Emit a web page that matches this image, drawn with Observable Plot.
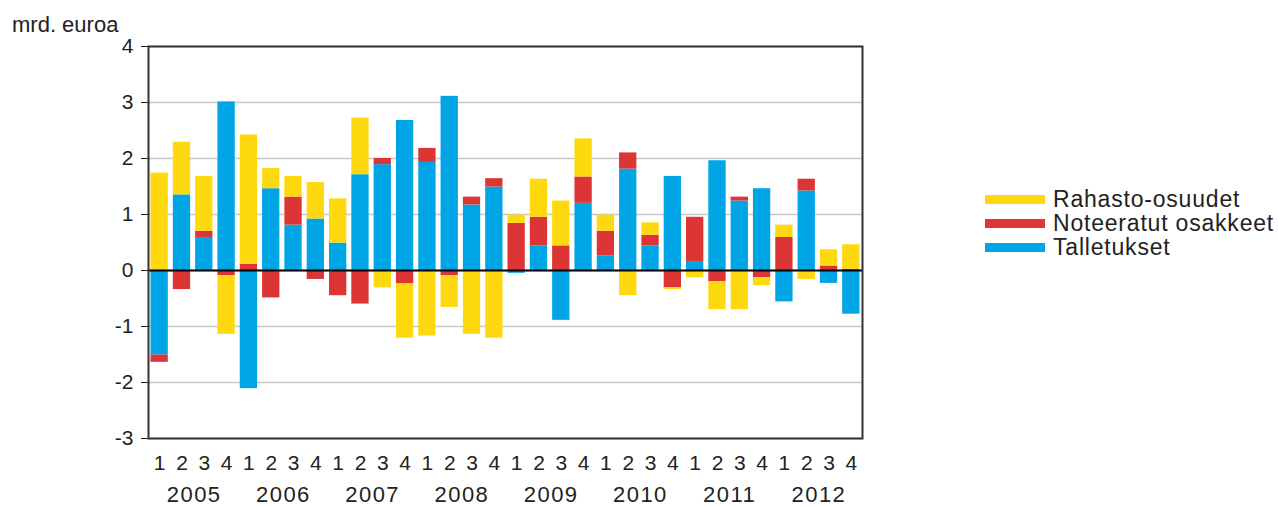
<!DOCTYPE html>
<html>
<head>
<meta charset="utf-8">
<script src="https://cdn.jsdelivr.net/npm/d3@7"></script>
<script src="https://cdn.jsdelivr.net/npm/@observablehq/plot@0.6"></script>
<style>
  html, body { margin: 0; padding: 0; background: #fff; }
  #wrap { position: relative; width: 1278px; height: 507px; font-family: "Liberation Sans", Arial, sans-serif; color: #222; }
  #title { position: absolute; left: 12px; top: 16px; font-size: 22px; line-height: 18px; }
  #legend { position: absolute; left: 985px; top: 187px; font-size: 23px; letter-spacing: 0.8px; }
  .row { display: flex; align-items: center; height: 24px; }
  .sw { width: 60px; height: 9px; margin-right: 8px; }
</style>
</head>
<body>
<div id="wrap">
  <div id="chart"></div>
  <div id="title">mrd. euroa</div>
  <div id="legend"></div>
</div>
<script>
const years = [2005, 2006, 2007, 2008, 2009, 2010, 2011, 2012];
const quarters = ["1", "2", "3", "4"];
const seriesNames = ["Talletukset", "Noteeratut osakkeet", "Rahasto-osuudet"];
const legendOrder = ["Rahasto-osuudet", "Noteeratut osakkeet", "Talletukset"];
const colors = ["#00a5e6", "#dc3535", "#ffd90f"];
const yTicks = [-3, -2, -1, 0, 1, 2, 3, 4];

const talletukset = [-1.51, 1.35, 0.59, 3.01, -2.11, 1.46, 0.81, 0.92, 0.49, 1.71, 1.89, 2.68, 1.93, 3.11, 1.17, 1.49, -0.05, 0.44, -0.89, 1.20, 0.26, 1.81, 0.44, 1.68, 0.16, 1.96, 1.24, 1.46, -0.56, 1.42, -0.23, -0.78];
const noteeratut = [-0.13, -0.34, 0.11, -0.09, 0.11, -0.49, 0.50, -0.16, -0.45, -0.60, 0.11, -0.24, 0.25, -0.09, 0.14, 0.15, 0.84, 0.51, 0.44, 0.47, 0.44, 0.29, 0.19, -0.31, 0.79, -0.20, 0.07, -0.13, 0.59, 0.21, 0.08, 0.02];
const rahasto = [1.74, 0.94, 0.98, -1.05, 2.31, 0.36, 0.37, 0.65, 0.79, 1.01, -0.31, -0.97, -1.17, -0.57, -1.14, -1.21, 0.15, 0.68, 0.80, 0.68, 0.29, -0.45, 0.22, -0.03, -0.13, -0.50, -0.70, -0.14, 0.22, -0.16, 0.29, 0.44];

const keys = years.flatMap(y => quarters.map(q => `${y}-${q}`));
const seriesValues = [talletukset, noteeratut, rahasto];
const data = [];
seriesNames.forEach((s, i) => keys.forEach((k, j) => data.push({key: k, series: s, value: seriesValues[i][j]})));

const marginLeft = 148, marginRight = 416;
const step = (1278 - marginLeft - marginRight) / keys.length;

const chart = Plot.plot({
  width: 1278,
  height: 507,
  marginLeft, marginRight,
  marginTop: 46,
  marginBottom: 69,
  style: {fontFamily: "'Liberation Sans', Arial, sans-serif", fontSize: "21px", color: "#222", background: "white"},
  x: {domain: keys, paddingInner: 0.224, paddingOuter: 0.112, round: false, tickFormat: k => k.split("-")[1], tickSize: 0, tickPadding: 17, label: null},
  y: {domain: [-3, 4], ticks: yTicks, tickFormat: d => String(d), tickSize: 7, tickPadding: 8, label: null},
  color: {domain: seriesNames, range: colors},
  marks: [
    Plot.gridY(yTicks, {stroke: "#c8c8c8", strokeOpacity: 1, strokeWidth: 1.5}),
    Plot.barY(data, {x: "key", y: "value", fill: "series"}),
    Plot.ruleY([0], {stroke: "#000", strokeWidth: 2}),
    Plot.frame({stroke: "#333", strokeWidth: 2}),
    Plot.text(years, {x: d => `${d}-2`, text: d => String(d), frameAnchor: "bottom", dy: 63, dx: step / 2 + 1, fontSize: 22, fill: "#222"})
  ]
});
chart.querySelectorAll("text").forEach(t => { if (/^\d{4}$/.test(t.textContent)) t.setAttribute("letter-spacing", "1.5"); });
document.getElementById("chart").appendChild(chart);

const legend = document.getElementById("legend");
legendOrder.forEach(name => {
  const row = document.createElement("div");
  row.className = "row";
  const sw = document.createElement("div");
  sw.className = "sw";
  sw.style.background = colors[seriesNames.indexOf(name)];
  const lab = document.createElement("span");
  lab.textContent = name;
  row.appendChild(sw);
  row.appendChild(lab);
  legend.appendChild(row);
});
</script>
</body>
</html>
